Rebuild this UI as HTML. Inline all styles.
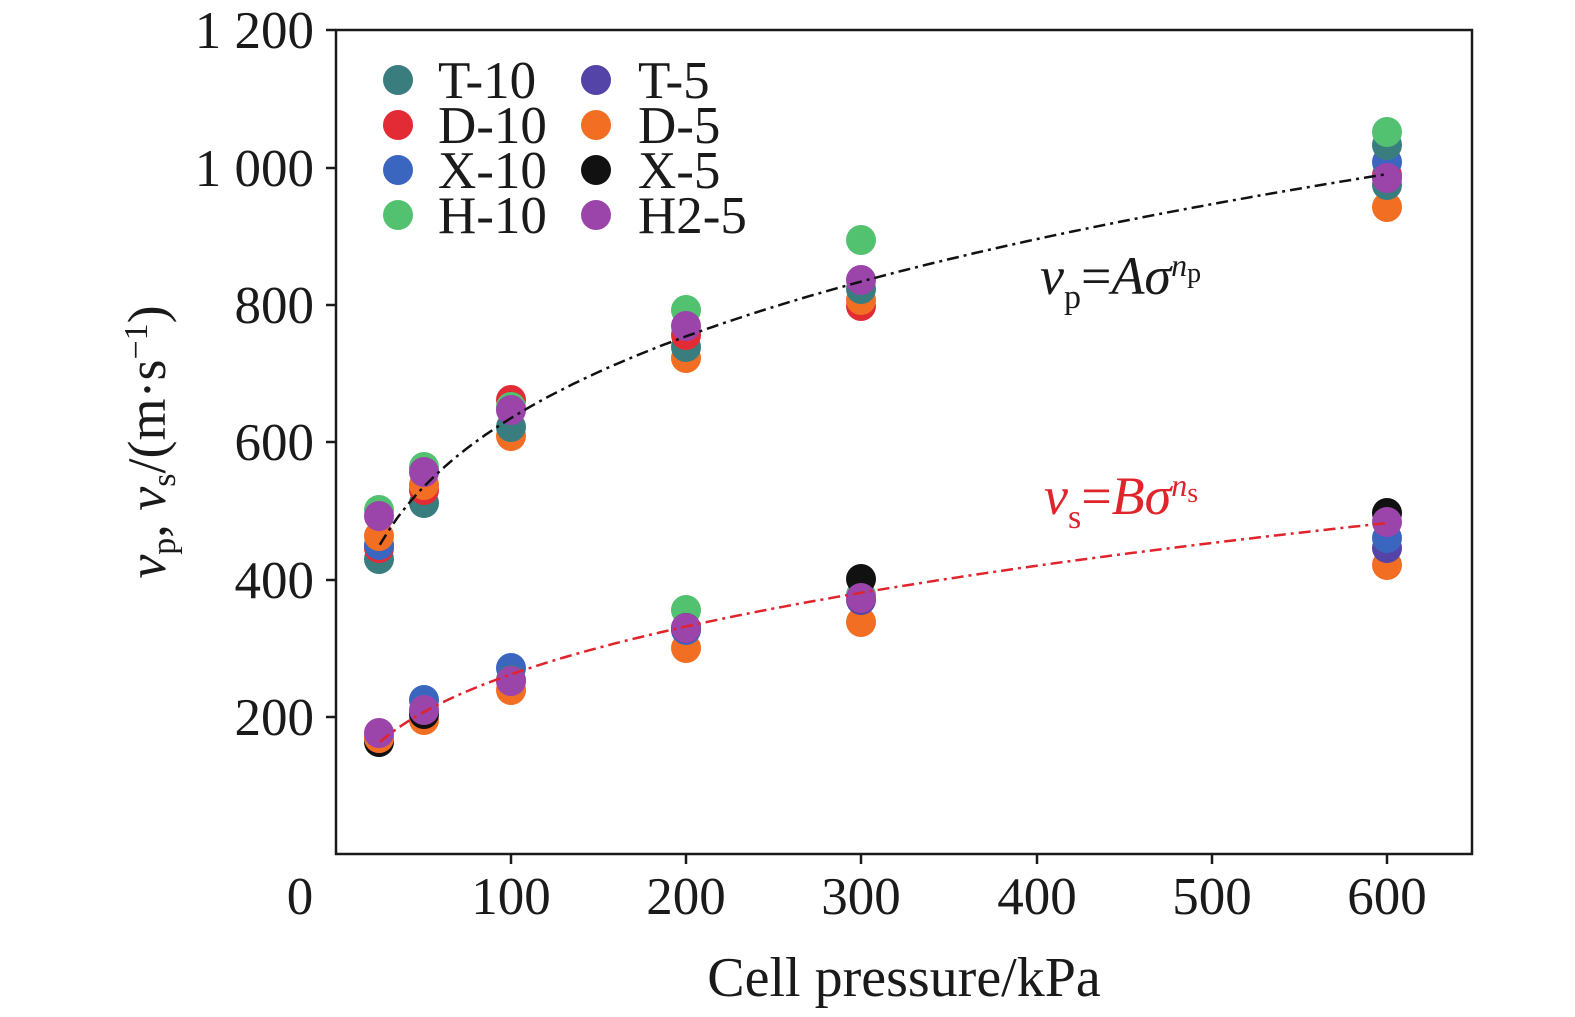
<!DOCTYPE html><html><head><style>body{margin:0;background:#fff}svg{display:block}text{font-family:"Liberation Serif",serif;fill:#1a1a1a}</style></head><body>
<svg id="s" width="1575" height="1017" xmlns="http://www.w3.org/2000/svg">
<rect x="336" y="30" width="1136" height="824" fill="none" stroke="#1a1a1a" stroke-width="2.5"/>
<g stroke="#1a1a1a" stroke-width="2.5">
<line x1="326" y1="30" x2="336" y2="30"/><line x1="326" y1="168" x2="336" y2="168"/><line x1="326" y1="305" x2="336" y2="305"/><line x1="326" y1="442" x2="336" y2="442"/><line x1="326" y1="580" x2="336" y2="580"/><line x1="326" y1="717" x2="336" y2="717"/>
<line x1="511" y1="854" x2="511" y2="864"/><line x1="686" y1="854" x2="686" y2="864"/><line x1="861" y1="854" x2="861" y2="864"/><line x1="1037" y1="854" x2="1037" y2="864"/><line x1="1212" y1="854" x2="1212" y2="864"/><line x1="1387" y1="854" x2="1387" y2="864"/>
</g>
<g font-size="53" text-anchor="end">
<text x="314" y="48">1 200</text><text x="314" y="186">1 000</text><text x="314" y="323">800</text><text x="314" y="460">600</text><text x="314" y="598">400</text><text x="314" y="735">200</text>
</g>
<g font-size="53" text-anchor="middle">
<text x="300" y="914">0</text><text x="511" y="914">100</text><text x="686" y="914">200</text><text x="861" y="914">300</text><text x="1037" y="914">400</text><text x="1212" y="914">500</text><text x="1387" y="914">600</text>
</g>
<text x="904" y="996" font-size="56" text-anchor="middle">Cell pressure/kPa</text>
<text transform="translate(165,442) rotate(-90)" font-size="54" text-anchor="middle"><tspan font-style="italic">v</tspan><tspan font-size="34" dy="10">p</tspan><tspan dy="-10">, </tspan><tspan font-style="italic">v</tspan><tspan font-size="34" dy="10">s</tspan><tspan dy="-10">/(m·s</tspan><tspan font-size="34" dy="-18">−1</tspan><tspan dy="18">)</tspan></text>
<g id="pts"></g>
<g font-size="53">
<text x="438" y="98">T-10</text><text x="438" y="143">D-10</text><text x="438" y="188">X-10</text><text x="438" y="233">H-10</text>
<text x="638" y="98">T-5</text><text x="638" y="143">D-5</text><text x="638" y="188">X-5</text><text x="638" y="233">H2-5</text>
</g>
<text x="1040" y="294" font-size="54"><tspan font-style="italic">v</tspan><tspan font-size="34" dy="14">p</tspan><tspan dy="-14">=</tspan><tspan font-style="italic">Aσ</tspan><tspan font-size="32" dy="-18" font-style="italic">n</tspan><tspan font-size="28" dy="6">p</tspan></text>
<text x="1044" y="514" font-size="54" style="fill:#e0242c"><tspan font-style="italic">v</tspan><tspan font-size="34" dy="14">s</tspan><tspan dy="-14">=</tspan><tspan font-style="italic">Bσ</tspan><tspan font-size="32" dy="-18" font-style="italic">n</tspan><tspan font-size="28" dy="6">s</tspan></text>
</svg>
<script>
var C={teal:"#3a7d7e",red:"#e32b36",blue:"#3a66c0",green:"#52c270",ind:"#5444a8",or:"#f26e22",blk:"#111",pur:"#9b44aa"};
var P=[
[379,[["teal",559],["red",548],["blue",545],["green",510],["or",536],["pur",516],["blk",742],["ind",738],["or",738],["pur",733]]],
[424,[["teal",503],["red",490],["green",467],["or",485],["pur",472],["or",720],["blk",714],["blue",700],["pur",710]]],
[511,[["or",436],["teal",427],["red",400],["green",407],["pur",410],["or",690],["blue",668],["teal",680],["pur",681]]],
[686,[["or",358],["teal",347],["red",335],["green",310],["pur",326],["or",648],["green",610],["blue",630],["blk",628],["pur",628]]],
[861,[["red",306],["or",300],["teal",289],["green",240],["pur",280],["or",622],["ind",600],["green",595],["blk",579],["pur",598]]],
[1387,[["or",207],["teal",185],["red",175],["blue",162],["teal",145],["green",132],["pur",178],["or",565],["ind",548],["blue",538],["blk",513],["pur",522]]]];
var h='';
P.forEach(function(c){c[1].forEach(function(p){h+='<circle cx="'+c[0]+'" cy="'+p[1]+'" r="15" fill="'+C[p[0]]+'"/>';});});
function curve(v0,n,col){var d='';for(var s=25;s<=600;s+=5){var v=v0*Math.pow(s/25,n);d+=(d?'L':'M')+(336+s*1.752).toFixed(1)+','+(854-v*0.687).toFixed(1);}return '<path d="'+d+'" fill="none" stroke="'+col+'" stroke-width="2.5" stroke-dasharray="12,5,3,5"/>';}
h+=curve(450,0.248,"#111")+curve(163,0.341,"#e0242c");
[["teal",80],["red",125],["blue",170],["green",215]].forEach(function(p){h+='<circle cx="398" cy="'+p[1]+'" r="15" fill="'+C[p[0]]+'"/>';});
[["ind",80],["or",125],["blk",170],["pur",215]].forEach(function(p){h+='<circle cx="596" cy="'+p[1]+'" r="15" fill="'+C[p[0]]+'"/>';});
document.getElementById('pts').innerHTML=h;
</script>
</body></html>
